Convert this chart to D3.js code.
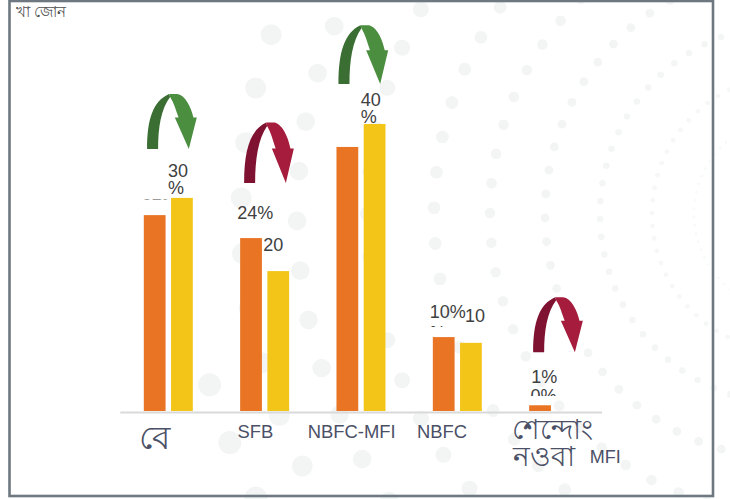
<!DOCTYPE html>
<html>
<head>
<meta charset="utf-8">
<title>Chart</title>
<script src="https://d3js.org/d3.v7.min.js"></script>
<style>
  body { margin: 0; background: #fff; }
  text { font-family: "Liberation Sans", Arial, sans-serif; }
</style>
</head>
<body>
<div id="my_dataviz"></div>
<script>
// values
const categories = ["বে", "SFB", "NBFC-MFI", "NBFC", "MFI"];
const seriesNames = ["orange", "yellow"];
const orangeValues = [27.3, 24.1, 36.8, 10.3, 0.8];
const yellowValues = [29.7, 19.5, 40, 9.5, 0];
const arrowDirections = ["up", "down", "up", null, "down"];
const chartTitle = "খা জোন";
const lastCategoryLines = ["শেন্দোং", "নওবা"];

const colors = { orange: "#e97424", yellow: "#f3c518" };

var width = 730, height = 499;

var svg = d3.select("#my_dataviz")
  .append("svg")
    .attr("width", width)
    .attr("height", height)
    .style("display", "block");

// faint dotted rings behind everything (decoration only)
const ringCx = 790, ringCy = 214;
const rings = [
  {r: 96, dot: 1.4, start: -1.8, step: 5, fill: "#f8f9f9"},
  {r: 138, dot: 2.4, start: 0.4, step: 5.3, fill: "#f6f7f7"},
  {r: 190, dot: 3.3, start: -1.5, step: 5.4, fill: "#f4f6f6"},
  {r: 245, dot: 4.4, start: -0.9, step: 5.6, fill: "#f3f5f5"},
  {r: 300, dot: 5.3, start: 0.2, step: 5.7, fill: "#f3f5f5"},
  {r: 356, dot: 6.4, start: 1, step: 5.75, fill: "#f3f5f5"},
  {r: 422, dot: 8, start: 0, step: 5.8, fill: "#f3f5f5"},
  {r: 493, dot: 9.3, start: -0.8, step: 5.8, fill: "#f3f5f5"},
  {r: 549, dot: 10.5, start: 1.67, step: 5.8, fill: "#f3f5f5"},
  {r: 605, dot: 11.5, start: 1, step: 5.8, fill: "#f3f5f5", onlyBelow: -12}
];
var dots = [];
rings.forEach(function(ring) {
  d3.range(-32, 33).forEach(function(k) {
    var deg = ring.start + k * ring.step;
    if (ring.onlyBelow !== undefined && deg > ring.onlyBelow) return;
    var a = deg * Math.PI / 180;
    dots.push({
      x: ringCx - ring.r * Math.cos(a),
      y: ringCy - ring.r * Math.sin(a),
      dot: ring.dot,
      fill: ring.fill
    });
  });
});
svg.append("g").selectAll("circle")
  .data(dots)
  .enter()
  .append("circle")
    .attr("cx", function(d) { return d.x; })
    .attr("cy", function(d) { return d.y; })
    .attr("r", function(d) { return d.dot; })
    .attr("fill", function(d) { return d.fill; });

// frame
svg.append("rect")
  .attr("x", 9.5).attr("y", 1)
  .attr("width", 703.5).attr("height", 495)
  .attr("fill", "none")
  .attr("stroke", "#6d7880")
  .attr("stroke-width", 2.6);

svg.append("text")
  .attr("x", 16).attr("y", 17)
  .attr("font-size", 15)
  .attr("fill", "#505050")
  .text(chartTitle);

// scales
var x0 = d3.scaleBand().domain(categories).range([119.8, 601.5]);
var x1 = d3.scaleBand().domain(seriesNames).range([24, 73]).paddingInner(0.2);
var y = d3.scaleLinear().domain([0, 40]).range([411, 124]);

// labels go under the bars, some are cut off as in the source
// [dx from bar, dy from bar top, bottom of the visible part relative to bar top]
const orangeLabelText = [["27%"], ["24%"], [], ["10%"], ["1%"]];
const yellowLabelText = [["30", "%"], ["20"], ["40", "%"], ["10"], ["0%"]];
const orangeLabelPlace = [[-2, -3.5, -15.5], [-3, -18.7, 0], [0, 0, 0], [-3, -18.7, 0], [2, -22, 0]];
const yellowLabelPlace = [[-3, -21, 2], [-4, -20, 2], [-3, -18, 2], [5, -21, 2], [-26, -9, -15]];

var labels = svg.append("g").attr("font-size", 18).attr("fill", "#404040");
var defs = svg.append("defs");
function addLabel(id, lines, bx, top, place) {
  defs.append("clipPath").attr("id", id)
    .append("rect")
      .attr("x", bx + place[0] - 5).attr("y", 0)
      .attr("width", 70).attr("height", top + place[2]);
  var t = labels.append("text").attr("clip-path", "url(#" + id + ")");
  lines.forEach(function(line, j) {
    t.append("tspan")
      .attr("x", bx + place[0])
      .attr("y", top + place[1] + j * 17)
      .text(line);
  });
}
categories.forEach(function(c, i) {
  addLabel("lo" + i, orangeLabelText[i], x0(c) + x1("orange"), y(orangeValues[i]), orangeLabelPlace[i]);
  addLabel("ly" + i, yellowLabelText[i], x0(c) + x1("yellow"), y(yellowValues[i]), yellowLabelPlace[i]);
});
// stray percent sign under the NBFC label, only its top shows
defs.append("clipPath").attr("id", "lstray").append("rect")
  .attr("x", 425).attr("y", 0).attr("width", 30).attr("height", y(orangeValues[3]) - 10);
labels.append("text")
  .attr("clip-path", "url(#lstray)")
  .attr("x", x0("NBFC") + x1("orange") - 3)
  .attr("y", y(orangeValues[3]) + 2)
  .text("%");

// bars
[orangeValues, yellowValues].forEach(function(values, s) {
  var name = seriesNames[s];
  svg.append("g").selectAll("rect")
    .data(values)
    .enter()
    .append("rect")
      .attr("x", function(d, i) { return x0(categories[i]) + x1(name); })
      .attr("y", function(d) { return y(d); })
      .attr("width", x1.bandwidth())
      .attr("height", function(d) { return y(0) - y(d); })
      .attr("fill", colors[name]);
});

// axis
var axis = svg.append("g")
  .attr("transform", "translate(0," + (y(0) + 1) + ")")
  .call(d3.axisBottom(x0).tickSize(0).tickPadding(13));
axis.select(".domain").attr("stroke", "#d9d9d9").attr("stroke-width", 2);
const tickNudge = [-14, -9, -9, -15, 0];
axis.selectAll(".tick text")
  .attr("font-size", 18.4)
  .attr("fill", "#4b5066")
  .attr("dx", function(d, i) { return tickNudge[i]; })
  .attr("font-family", '"Liberation Sans", Arial, sans-serif');
axis.selectAll(".tick text")
  .filter(function(d) { return d === "বে"; })
  .attr("font-size", 33)
  .attr("dx", -13)
  .attr("dy", "0.72em");

// last category is two big lines with a small MFI next to them
var lastTick = axis.selectAll(".tick").filter(function(d) { return d === "MFI"; });
lastTick.select("text").attr("x", 52).attr("dx", 0).attr("y", 51).attr("dy", 0).attr("font-size", 18);
lastCategoryLines.forEach(function(line, j) {
  lastTick.append("text")
    .attr("x", j === 0 ? -41 : -40)
    .attr("y", 27 + j * 27)
    .attr("text-anchor", "start")
    .attr("font-size", 28)
    .attr("fill", "#4b5066")
    .text(line);
});

// curved arrows, drawn in a local box with the tail's left corner at 0,0
const arrowColors = {
  up: { dark: "#3a6e33", light: "#4b8e3f" },
  down: { dark: "#7f1231", light: "#a51c3c" }
};
const arrowDark = "M0,0 C0,-30 6,-48 22,-55 L23,-52 C14,-40 11,-22 11,0 Z";
const arrowLight = "M22,-55 L30,-55 C38,-54 44,-42 46.3,-31.5 L49.7,-31.5 L41.7,0 L27.7,-31.5 L31.5,-31.5 C29,-38 27,-46 23,-52 Z";
const arrowPlace = [[3.3, -49, 1], [4, -55, 1.1], [2, -40, 1.07], null, [4, -53, 1]];

arrowDirections.forEach(function(dir, i) {
  if (!dir) return;
  var p = arrowPlace[i];
  var ax = x0(categories[i]) + x1("orange") + p[0];
  var ay = y(Math.max(orangeValues[i], yellowValues[i])) + p[1];
  var g = svg.append("g")
    .attr("transform", "translate(" + ax + "," + ay + ") scale(1," + p[2] + ")");
  g.append("path").attr("d", arrowDark).attr("fill", arrowColors[dir].dark);
  g.append("path").attr("d", arrowLight).attr("fill", arrowColors[dir].light);
});
</script>
</body>
</html>
